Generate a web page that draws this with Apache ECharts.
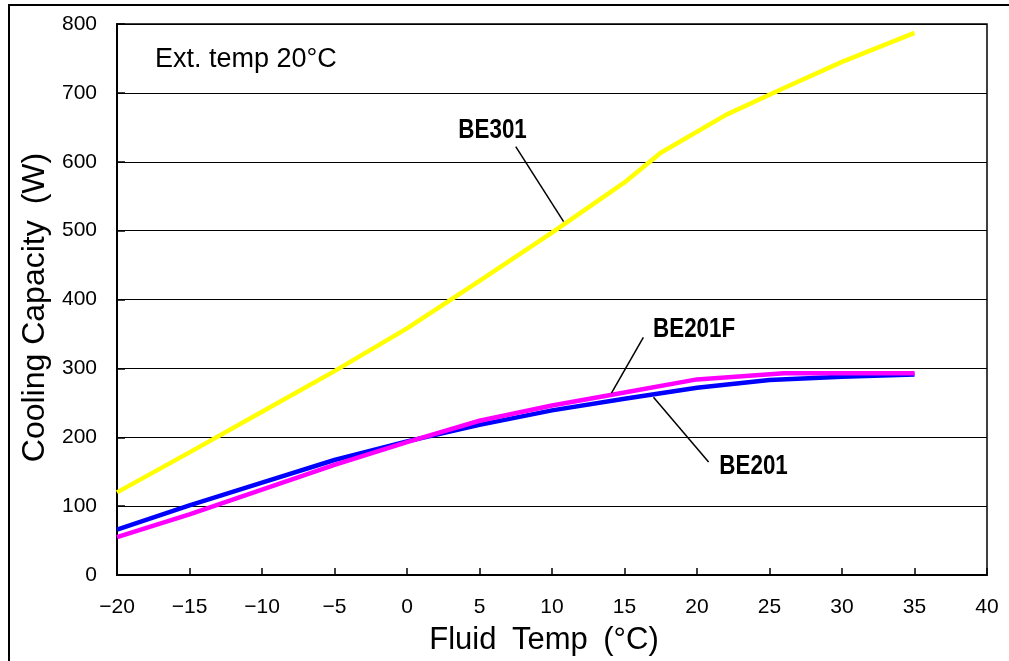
<!DOCTYPE html>
<html>
<head>
<meta charset="utf-8">
<script src="https://cdn.jsdelivr.net/npm/echarts@6/dist/echarts.min.js"></script>
<style>html,body{margin:0;padding:0;background:#fff}#c{width:1009px;height:661px}</style>
</head>
<body>
<div id="c"></div>
<script>
// Data (x = Fluid Temp °C, y = Cooling Capacity W)
const be301X = [-20, -15, -10, -5, 0, 5, 10, 15, 17.5, 22, 26, 30, 35];
const be301Y = [120, 178, 237, 296, 358, 427, 497, 570, 613, 668, 707, 745, 787];
const be201X = [-20, -15, -10, -5, 0, 5, 10, 15, 20, 25, 30, 35];
const be201Y = [66, 101, 134, 167, 194, 218, 239, 256, 272, 283, 288, 291];
const be201fX = [-20, -15, -10, -5, 0, 5, 10, 15, 20, 26, 30, 35];
const be201fY = [55, 88, 124, 160, 193, 224, 246, 265, 284, 293, 293, 293];
const xTicks = { min: -20, max: 40, step: 5 };
const yTicks = { min: 0, max: 800, step: 100 };
const seriesNames = ['BE301', 'BE201', 'BE201F'];
const annotation = 'Ext. temp 20°C';
const xName = 'Fluid\u2002Temp\u2002(°C)';
const yName = 'Cooling Capacity\u2002(W)';
// callouts: [labelX, labelY, lineStartX, lineStartY, lineEndX, lineEndY] in data units
const callouts = {
  BE301: [5.9, 646, 7.5, 622, 10.8, 513],
  BE201F: [19.8, 357, 16.3, 345, 14.1, 264],
  BE201: [23.9, 158, 17.0, 258, 20.8, 164]
};

const pair = (xs, ys) => xs.map((x, i) => [x, ys[i]]);
const fontMain = "'Liberation Sans', Arial, 'Noto Sans CJK JP', sans-serif";
const colors = { BE301: '#ffff00', BE201: '#0000ff', BE201F: '#ff00ff' };
const dataMap = { BE301: pair(be301X, be301Y), BE201: pair(be201X, be201Y), BE201F: pair(be201fX, be201fY) };

function mkSeries(name) {
  const c = callouts[name];
  return {
    name, type: 'line', data: dataMap[name], symbol: 'none', smooth: false,
    lineStyle: { color: colors[name], width: 4.5 }, z: name === 'BE201F' ? 4 : 3,
    markLine: {
      silent: true, symbol: 'none', label: { show: false },
      lineStyle: { color: '#000', width: 1.5, type: 'solid' },
      data: [[{ coord: [c[2], c[3]] }, { coord: [c[4], c[5]] }]]
    }
  };
}

const chart = echarts.init(document.getElementById('c'), null, { renderer: 'canvas' });
chart.setOption({
  animation: false,
  backgroundColor: '#fff',
  grid: { left: 117, right: 22, top: 24, bottom: 85, show: true, borderColor: '#000', borderWidth: 1.5, backgroundColor: '#fff' },
  xAxis: {
    type: 'value', min: xTicks.min, max: xTicks.max, interval: xTicks.step,
    name: xName, nameLocation: 'middle', nameGap: 50,
    nameTextStyle: { fontSize: 31, color: '#000', fontFamily: fontMain, padding: [0, 16, 0, 0] },
    axisLine: { onZero: false, lineStyle: { color: '#000', width: 2 } },
    axisTick: { inside: true, length: 7, lineStyle: { color: '#000', width: 1.5 } },
    axisLabel: { fontSize: 21, color: '#000', margin: 22, fontFamily: fontMain, formatter: v => String(v).replace('-', '\u2212') },
    splitLine: { show: false }
  },
  yAxis: {
    type: 'value', min: yTicks.min, max: yTicks.max, interval: yTicks.step,
    name: yName, nameLocation: 'middle', nameGap: 64,
    nameTextStyle: { fontSize: 32, color: '#000', fontFamily: fontMain, padding: [0, 16, 0, 0] },
    axisLine: { onZero: false, lineStyle: { color: '#000', width: 2 } },
    axisTick: { inside: true, length: 8, lineStyle: { color: '#000', width: 1.5 } },
    axisLabel: { fontSize: 21, color: '#000', margin: 20, fontFamily: fontMain },
    splitLine: { show: true, lineStyle: { color: '#000', width: 1.2 } }
  },
  graphic: [
    { id: 'frame', type: 'rect', shape: { x: 9, y: 5, width: 1100, height: 700 }, style: { fill: 'none', stroke: '#000', lineWidth: 2 }, z: 1, silent: true },
    { id: 'note', type: 'text', left: 155, top: 46, style: { text: annotation, fontSize: 27, fill: '#000', fontFamily: fontMain }, z: 10 }
  ],
  series: seriesNames.map(mkSeries)
});

// Condensed bold callout labels, placed through the axes' own scales
const labelGraphics = seriesNames.map(name => {
  const c = callouts[name];
  const p = chart.convertToPixel({ gridIndex: 0 }, [c[0], c[1]]);
  return {
    id: 'lab_' + name, type: 'text', x: p[0], y: p[1], scaleX: 0.8, scaleY: 1, z: 10,
    style: { text: name, fontSize: 28, fontWeight: 'bold', fill: '#000', fontFamily: fontMain, align: 'center', verticalAlign: 'middle' }
  };
});
chart.setOption({ graphic: labelGraphics });
</script>
</body>
</html>
